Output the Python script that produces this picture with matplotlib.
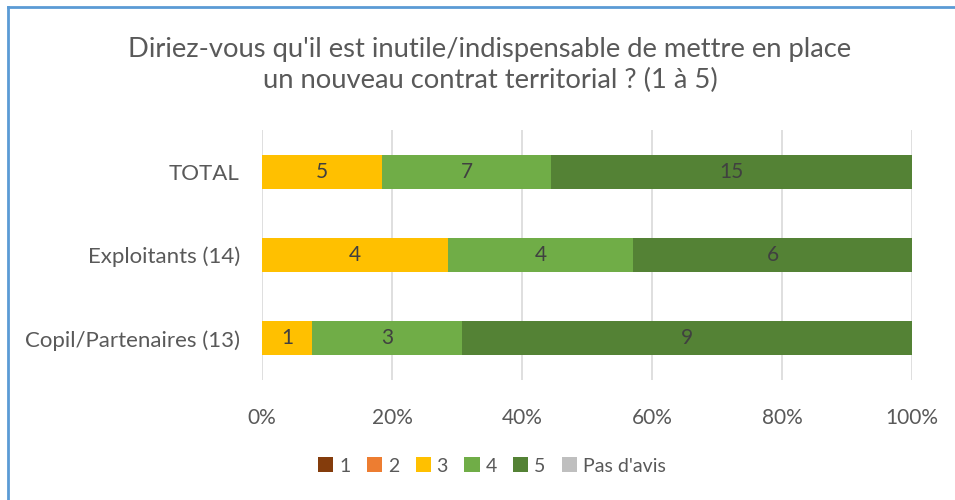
import matplotlib
matplotlib.use("Agg")
import matplotlib.pyplot as plt
import numpy as np

categories = ["TOTAL", "Exploitants (14)", "Copil/Partenaires (13)"]
series_names = ["1", "2", "3", "4", "5", "Pas d'avis"]
s1 = [0, 0, 0]
s2 = [0, 0, 0]
s3 = [5, 4, 1]
s4 = [7, 4, 3]
s5 = [15, 6, 9]
s_na = [0, 0, 0]
colors = ["#843C0C", "#ED7D31", "#FFC000", "#70AD47", "#548235", "#BFBFBF"]
xticklabels = ["0%", "20%", "40%", "60%", "80%", "100%"]
title = "Diriez-vous qu'il est inutile/indispensable de mettre en place\nun nouveau contrat territorial ? (1 à 5)"

plt.rcParams['font.family'] = ['Lato', 'DejaVu Sans']
fig = plt.figure(figsize=(9.55, 5.0), dpi=100)
ax = fig.add_axes([262/955, 1-380/500, 650/955, 250/500])

data = np.array([s1, s2, s3, s4, s5, s_na], dtype=float)
totals = data.sum(axis=0)
pct = data / totals * 100
y = np.arange(len(categories))
left = np.zeros(len(categories))
for i, name in enumerate(series_names):
    ax.barh(y, pct[i], left=left, height=0.41, color=colors[i], label=name, zorder=3)
    for j in range(len(categories)):
        if data[i, j] > 0:
            ax.text(left[j] + pct[i, j] / 2, y[j], f"{int(data[i, j])}", ha="center", va="center",
                    fontsize=15, color="#404040", zorder=4)
    left += pct[i]

ax.set_xlim(0, 100)
ax.set_ylim(2.5, -0.5)
ax.set_yticks(y)
ax.set_yticklabels(categories, fontsize=16, color="#595959")
ax.set_xticks(np.arange(0, 101, 20))
ax.set_xticklabels(xticklabels, fontsize=15, color="#595959")
ax.tick_params(axis="y", length=0, pad=16)
ax.tick_params(axis="x", length=0, pad=20)
ax.grid(axis="x", color="#D9D9D9", linewidth=1.2, zorder=0)
for s in ax.spines.values():
    s.set_visible(False)

fig.text(490/955, 1-65/500, title, ha="center", va="center", fontsize=19.7, color="#595959", linespacing=1.3)

handles, labels = ax.get_legend_handles_labels()
leg = fig.legend(handles, labels, loc="center", bbox_to_anchor=(492/955, 1-466/500), ncol=6, frameon=False,
                 fontsize=14, handlelength=0.78, handleheight=0.78, handletextpad=0.3, columnspacing=0.85)
for t in leg.get_texts():
    t.set_color("#595959")

# chart border (top and left visible)
fig.add_artist(plt.Line2D([8/955, 8/955], [0, 1-6.5/500], color="#5B9BD5", linewidth=2, transform=fig.transFigure))
fig.add_artist(plt.Line2D([8/955, 1], [1-6.5/500, 1-6.5/500], color="#5B9BD5", linewidth=2, transform=fig.transFigure))

fig.savefig("out.png", dpi=100)
